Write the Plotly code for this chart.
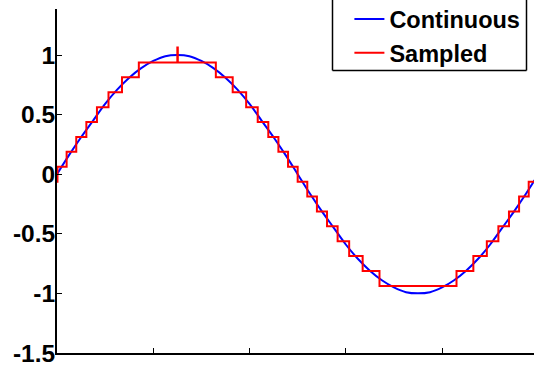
import plotly.graph_objects as go

# Continuous signal
t_cont = [0.0, 0.025, 0.05, 0.075, 0.1, 0.125, 0.15, 0.175, 0.2, 0.225,
          0.25, 0.275, 0.3, 0.325, 0.35, 0.375, 0.4, 0.425, 0.45, 0.475,
          0.5, 0.525, 0.55, 0.575, 0.6, 0.625, 0.65, 0.675, 0.7, 0.725,
          0.75, 0.775, 0.8, 0.825, 0.85, 0.875, 0.9, 0.925, 0.95, 0.975, 1.0]
y_cont = [0.0, 0.16, 0.31, 0.45, 0.59, 0.71, 0.81, 0.89, 0.95, 0.99,
          1.0, 0.99, 0.95, 0.89, 0.81, 0.71, 0.59, 0.45, 0.31, 0.16,
          0.0, -0.16, -0.31, -0.45, -0.59, -0.71, -0.81, -0.89, -0.95, -0.99,
          -1.0, -0.99, -0.95, -0.89, -0.81, -0.71, -0.59, -0.45, -0.31, -0.16, 0.0]

# Sampled (quantised) signal: step start times and levels
t_step = [0.0, 0.001, 0.020, 0.040, 0.061, 0.083, 0.107, 0.135, 0.170, 0.250,
          0.251, 0.330, 0.365, 0.393, 0.417, 0.439, 0.460, 0.480, 0.500, 0.520,
          0.540, 0.561, 0.583, 0.607, 0.635, 0.670, 0.830, 0.865, 0.893, 0.917,
          0.939, 0.960, 0.980, 1.000]
y_step = [-0.0625, 0.0625, 0.1875, 0.3125, 0.4375, 0.5625, 0.6875, 0.8125, 0.9375, 1.0625,
          0.9375, 0.8125, 0.6875, 0.5625, 0.4375, 0.3125, 0.1875, 0.0625, -0.0625, -0.1875,
          -0.3125, -0.4375, -0.5625, -0.6875, -0.8125, -0.9375, -0.8125, -0.6875, -0.5625, -0.4375,
          -0.3125, -0.1875, -0.0625, -0.0625]

y_ticks = [-1.5, -1, -0.5, 0, 0.5, 1]
y_tick_text = ["-1.5", "-1", "-0.5", "0", "0.5", "1"]
x_ticks = [0, 0.2, 0.4, 0.6, 0.8, 1.0]

FONT = "Liberation Sans, Arial, Helvetica, sans-serif"

fig = go.Figure()
fig.add_trace(go.Scatter(x=t_cont, y=y_cont, mode="lines", name="Continuous",
                         line=dict(color="#0000FF", width=2, shape="spline")))
fig.add_trace(go.Scatter(x=t_step, y=y_step, mode="lines", name="Sampled",
                         line=dict(color="#FF0000", width=2, shape="hv")))

fig.update_layout(
    width=534, height=366,
    margin=dict(l=57, r=0, t=9, b=13, autoexpand=False),
    paper_bgcolor="white", plot_bgcolor="white",
    font=dict(family=FONT, size=23, color="black", weight="bold"),
    showlegend=True,
    legend=dict(x=0.613, y=1.034, xanchor="left", yanchor="top",
                bgcolor="rgba(0,0,0,0)", borderwidth=0,
                font=dict(family=FONT, size=23.5, color="black", weight="bold"),
                itemwidth=30, tracegroupgap=0),
    xaxis=dict(range=[0, 0.991], tickvals=x_ticks, showticklabels=False,
               ticks="inside", ticklen=5, tickwidth=1, tickcolor="black",
               showline=True, linecolor="black", linewidth=2,
               showgrid=False, zeroline=False),
    yaxis=dict(range=[-1.5005, 1.386], tickvals=y_ticks, ticktext=y_tick_text,
               ticks="inside", ticklen=5, tickwidth=1, tickcolor="black",
               showline=True, linecolor="black", linewidth=2,
               showgrid=False, zeroline=False, ticklabelstandoff=-5,
               ticklabeloverflow="allow",
               tickfont=dict(family=FONT, size=24.5, color="black", weight="bold")),
)

# legend frame (top edge lies outside the visible area)
for x0, y0, x1, y1 in [(332.5, 0, 332.5, 70.5), (332.5, 70.5, 526.5, 70.5), (526.5, 70.5, 526.5, 0)]:
    fig.add_shape(type="line", xref="paper", yref="paper",
                  x0=(x0 - 57) / 477, x1=(x1 - 57) / 477,
                  y0=(353 - y0) / 344, y1=(353 - y1) / 344,
                  line=dict(color="black", width=1.5))

fig.write_html("out.html")
